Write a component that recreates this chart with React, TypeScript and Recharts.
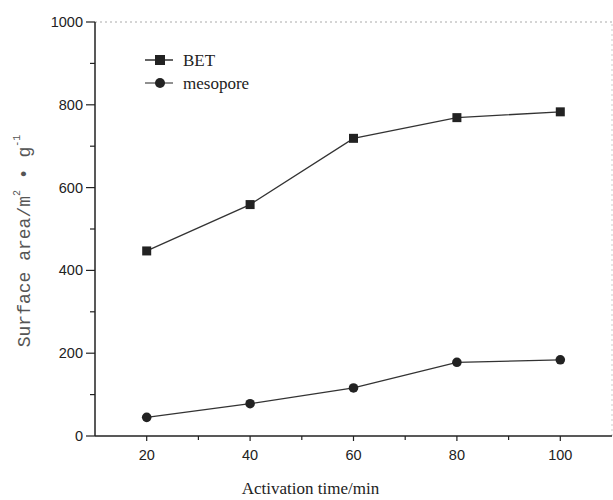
import React from 'react';
import { LineChart, Line, XAxis, YAxis, ReferenceLine } from 'recharts';

// activation time (min)
const activationTimes = [20, 40, 60, 80, 100];
// surface areas, m2/g
const betArea = [447, 559, 719, 769, 783];
const mesoporeArea = [45, 78, 116, 178, 184];

const xTicks = [20, 30, 40, 50, 60, 70, 80, 90, 100];
const xMajor = [20, 40, 60, 80, 100];
const yTicks = [0, 100, 200, 300, 400, 500, 600, 700, 800, 900, 1000];
const yMajor = [0, 200, 400, 600, 800, 1000];

const data = activationTimes.map((t, i) => ({
  time: t,
  BET: betArea[i],
  mesopore: mesoporeArea[i],
}));

const INK = '#222';
const TICK_FONT = '"Liberation Sans", Arial, sans-serif';
const SERIF = '"Liberation Serif", "Times New Roman", serif';

const YTick = (props: any) => {
  const { x, y, payload } = props;
  const axisX = x + 10;
  const major = yMajor.includes(payload.value);
  return (
    <g>
      <line x1={axisX - (major ? 9 : 5)} x2={axisX} y1={y} y2={y} stroke={INK} strokeWidth={1.2} />
      {major && (
        <text x={axisX - 12} y={y} textAnchor="end" dominantBaseline="central" fontFamily={TICK_FONT} fontSize={14.5} fill={INK}>
          {payload.value}
        </text>
      )}
    </g>
  );
};

const XTick = (props: any) => {
  const { x, y, payload } = props;
  const axisY = y - 10;
  const major = xMajor.includes(payload.value);
  return (
    <g>
      <line x1={x} x2={x} y1={axisY} y2={axisY + (major ? 5 : 4)} stroke={INK} strokeWidth={1.2} />
      {major && (
        <text x={x} y={axisY + 19} textAnchor="middle" dominantBaseline="central" fontFamily={TICK_FONT} fontSize={14.5} fill={INK}>
          {payload.value}
        </text>
      )}
    </g>
  );
};

const SquareDot = (props: any) => {
  const { cx, cy } = props;
  if (cx == null || cy == null) return null;
  return <rect x={cx - 4.5} y={cy - 4.5} width={9} height={9} fill={INK} />;
};

const RoundDot = (props: any) => {
  const { cx, cy } = props;
  if (cx == null || cy == null) return null;
  return <circle cx={cx} cy={cy} r={4.8} fill={INK} />;
};

// legend drawn as an overlay so it doesn't shrink the plot area
const LegendBox = () => (
  <svg width={140} height={50} style={{ position: 'absolute', left: 145, top: 50 }}>
    <line x1={0} x2={28} y1={10} y2={10} stroke={INK} strokeWidth={1.4} />
    <rect x={10} y={5} width={10} height={10} fill={INK} />
    <text x={38} y={10} dominantBaseline="central" fontFamily={SERIF} fontSize={17} fill={INK}>BET</text>
    <line x1={0} x2={28} y1={33} y2={33} stroke={INK} strokeWidth={1} />
    <circle cx={15} cy={33} r={5} fill={INK} />
    <text x={38} y={33} dominantBaseline="central" fontFamily={SERIF} fontSize={17} fill={INK}>mesopore</text>
  </svg>
);

const YLabel = (props: any) => {
  const { viewBox } = props;
  const cx = 25;
  const cy = viewBox.y + viewBox.height / 2 + 12;
  return (
    <text
      x={cx}
      y={cy}
      transform={`rotate(-90 ${cx} ${cy})`}
      textAnchor="middle"
      dominantBaseline="central"
      fontFamily='"Liberation Mono", "DejaVu Sans Mono", monospace'
      fontSize={18}
      fill="#555"
    >
      Surface area/m
      <tspan fontSize={10} dy={-8}>2</tspan>
      <tspan dy={8}> • g</tspan>
      <tspan fontSize={10} dy={-8}>-1</tspan>
    </text>
  );
};

const XLabel = (props: any) => {
  const { viewBox } = props;
  const cx = viewBox.x + viewBox.width / 2 - 43;
  return (
    <text x={cx} y={488} textAnchor="middle" dominantBaseline="central" fontFamily={SERIF} fontSize={17} fill={INK}>
      Activation time/min
    </text>
  );
};

export default function App() {
  return (
    <div style={{ position: 'absolute', left: 0, top: 0, width: 613, height: 500, background: '#fff' }}>
      <LineChart width={613} height={500} data={data} margin={{ top: 22, right: 1, left: 0, bottom: 0 }}>
        <ReferenceLine y={1000} stroke="#aaa" strokeDasharray="2 3" />
        <ReferenceLine x={110} stroke="#ccc" strokeDasharray="2 3" />
        <XAxis
          dataKey="time"
          type="number"
          domain={[10, 110]}
          ticks={xTicks}
          tickLine={false}
          tickSize={8}
          tickMargin={2}
          height={64}
          axisLine={{ stroke: INK, strokeWidth: 1.5 }}
          tick={<XTick />}
          label={<XLabel />}
        />
        <YAxis
          type="number"
          domain={[0, 1000]}
          ticks={yTicks}
          tickLine={false}
          tickSize={8}
          tickMargin={2}
          width={95}
          axisLine={{ stroke: INK, strokeWidth: 1.5 }}
          tick={<YTick />}
          label={<YLabel />}
        />
        <Line dataKey="BET" stroke="#333" strokeWidth={1.3} dot={<SquareDot />} isAnimationActive={false} />
        <Line dataKey="mesopore" stroke="#333" strokeWidth={1.3} dot={<RoundDot />} isAnimationActive={false} />
      </LineChart>
      <LegendBox />
    </div>
  );
}
